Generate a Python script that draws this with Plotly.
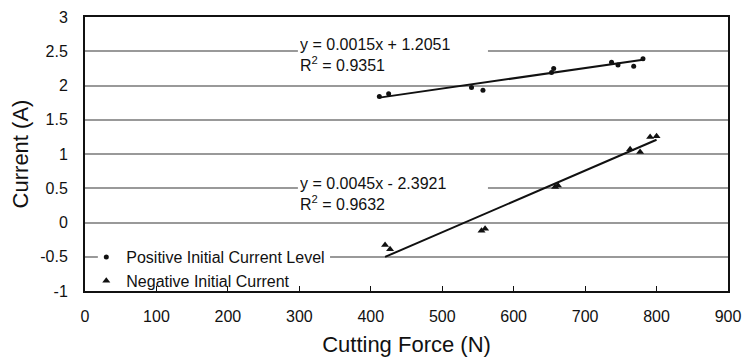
import plotly.graph_objects as go

# Data
pos_force = [412, 425, 541, 557, 653, 656, 737, 746, 768, 781]
pos_current = [1.84, 1.88, 1.97, 1.93, 2.19, 2.25, 2.34, 2.30, 2.28, 2.39]
neg_force = [420, 427, 555, 560, 658, 662, 763, 777, 791, 800]
neg_current = [-0.33, -0.39, -0.12, -0.09, 0.52, 0.54, 1.07, 1.03, 1.25, 1.26]

pos_slope, pos_icpt, pos_r2 = 0.0015, 1.2051, 0.9351
neg_slope, neg_icpt, neg_r2 = 0.0045, -2.3921, 0.9632

y_ticks = [-1, -0.5, 0, 0.5, 1, 1.5, 2, 2.5, 3]
y_ticktext = ["-1", "-0.5", "0", "0.5", "1", "1.5", "2", "2.5", "3"]
x_ticks = [0, 100, 200, 300, 400, 500, 600, 700, 800, 900]

FONT = "Liberation Sans, Arial, sans-serif"
INK = "#111111"

fig = go.Figure()

# Trendlines (from the fitted equations, spanning the data range)
px0, px1 = min(pos_force), max(pos_force)
fig.add_trace(go.Scatter(x=[px0, px1], y=[pos_slope * px0 + pos_icpt, pos_slope * px1 + pos_icpt],
                         mode="lines", line=dict(color=INK, width=2), showlegend=False, hoverinfo="skip"))
nx0, nx1 = min(neg_force), max(neg_force)
fig.add_trace(go.Scatter(x=[nx0, nx1], y=[neg_slope * nx0 + neg_icpt, neg_slope * nx1 + neg_icpt],
                         mode="lines", line=dict(color=INK, width=2), showlegend=False, hoverinfo="skip"))

fig.add_trace(go.Scatter(x=pos_force, y=pos_current, mode="markers",
                         name="Positive Initial Current Level",
                         marker=dict(symbol="circle", size=5, color=INK)))
fig.add_trace(go.Scatter(x=neg_force, y=neg_current, mode="markers",
                         name="Negative Initial Current",
                         marker=dict(symbol="triangle-up", size=7, color=INK)))

# White masks over gridlines behind the equation labels and the legend (drawn under traces)
for (x0, x1, yc) in [(298, 564, 2.5), (298, 564, 0.5), (18, 343, -0.5)]:
    fig.add_shape(type="rect", xref="x", yref="y", x0=x0, x1=x1, y0=yc - 0.06, y1=yc + 0.06,
                  fillcolor="white", line=dict(width=0), layer="between")

fig.add_annotation(x=298, y=2.445, xref="x", yref="y", xanchor="left", yanchor="middle",
                   text=f"y = {pos_slope}x + {pos_icpt}<br>R<sup>2</sup> = {pos_r2}",
                   align="left", showarrow=False, width=186, borderpad=1,
                   font=dict(family=FONT, size=16, color=INK))
fig.add_annotation(x=298, y=0.409, xref="x", yref="y", xanchor="left", yanchor="middle",
                   text=f"y = {neg_slope}x - {abs(neg_icpt)}<br>R<sup>2</sup> = {neg_r2}",
                   align="left", showarrow=False, width=186, borderpad=1,
                   font=dict(family=FONT, size=16, color=INK))

fig.update_layout(
    width=743, height=361,
    margin=dict(l=85, r=15, t=17, b=70),
    paper_bgcolor="white", plot_bgcolor="white",
    font=dict(family=FONT, size=16, color=INK),
    showlegend=True,
    legend=dict(x=0.002, y=0.186, xanchor="left", yanchor="top", bgcolor="rgba(0,0,0,0)",
                font=dict(family=FONT, size=16, color=INK), itemwidth=30,
                tracegroupgap=0),
    xaxis=dict(range=[0, 900], tickvals=x_ticks, ticks="inside", ticklen=5, tickcolor=INK,
               tickwidth=1, showgrid=False, zeroline=False, showline=True, linecolor=INK,
               linewidth=2, mirror=True, ticklabelstandoff=10, automargin=False,
               tickfont=dict(family=FONT, size=16, color=INK),
               title=dict(text="Cutting Force (N)", font=dict(family=FONT, size=22, color=INK), standoff=12)),
    yaxis=dict(range=[-1, 3], tickvals=y_ticks, ticktext=y_ticktext, ticks="", showgrid=True,
               gridcolor="#999999", gridwidth=1.5, zeroline=False, showline=True, linecolor=INK,
               linewidth=2, mirror=True, ticklabelstandoff=12, automargin=False,
               tickfont=dict(family=FONT, size=16, color=INK),
               title=dict(text="Current (A)", font=dict(family=FONT, size=22, color=INK), standoff=6)),
)

fig.write_html("out.html", post_script="document.body.style.margin='0';",
               config={"displayModeBar": False})
